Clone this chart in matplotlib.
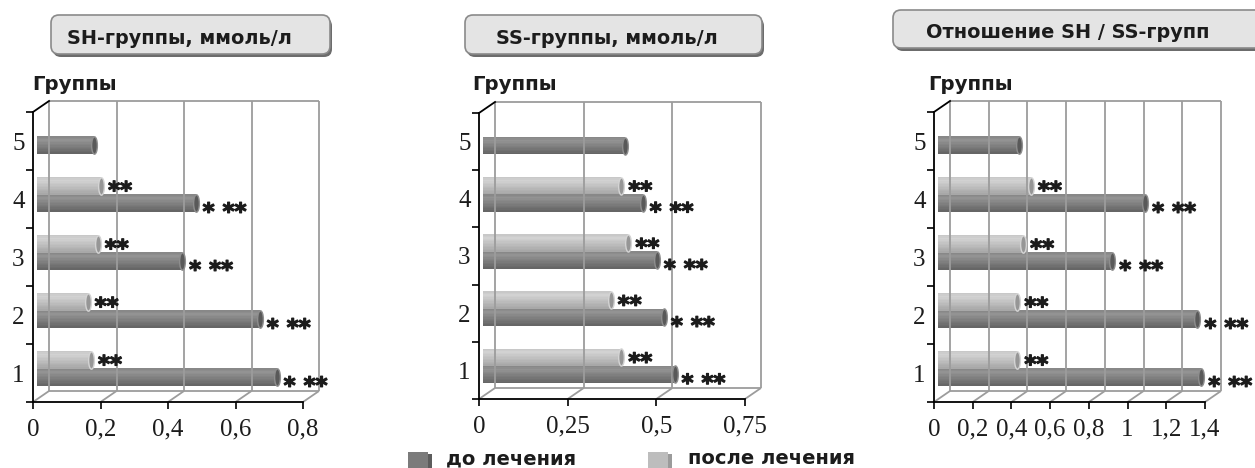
import matplotlib
matplotlib.use("Agg")
import matplotlib.pyplot as plt
import matplotlib.colors as mcolors
import matplotlib.transforms as mtransforms
import matplotlib.patheffects as pe
from matplotlib.patches import FancyBboxPatch, Rectangle
from matplotlib.path import Path
import numpy as np

groups = [1, 2, 3, 4, 5]
group_labels = ['1', '2', '3', '4', '5']

# до лечения / после лечения, group 5 has no "after" value
sh_before = [0.71, 0.66, 0.43, 0.47, 0.17]
sh_after = [0.16, 0.15, 0.18, 0.19, None]
ss_before = [0.54, 0.51, 0.49, 0.45, 0.40]
ss_after = [0.39, 0.36, 0.41, 0.39, None]
ratio_before = [1.36, 1.34, 0.90, 1.07, 0.42]
ratio_after = [0.41, 0.41, 0.44, 0.48, None]

marks_before = ['* **', '* **', '* **', '* **', '']
marks_after = ['**', '**', '**', '**', '']

sh_ticks = [0, 0.2, 0.4, 0.6, 0.8]
sh_ticklabels = ['0', '0,2', '0,4', '0,6', '0,8']
ss_ticks = [0, 0.25, 0.5, 0.75]
ss_ticklabels = ['0', '0,25', '0,5', '0,75']
ratio_ticks = [0, 0.2, 0.4, 0.6, 0.8, 1.0, 1.2, 1.4]
ratio_ticklabels = ['0', '0,2', '0,4', '0,6', '0,8', '1', '1,2', '1,4']

titles = ['SH-группы, ммоль/л', 'SS-группы, ммоль/л', 'Отношение SH / SS-групп']
axis_title = 'Группы'
legend_labels = ['до лечения', 'после лечения']

W, H = 1255, 468
fig = plt.figure(figsize=(W / 100, H / 100), dpi=100)
pix = mtransforms.IdentityTransform()

DEPTH = (16, 11)        # back wall offset, px
BAR_SHIFT = (4, 4.5)    # bars sit a little inside the box
BAR_H = 0.3
DARK = ('#939393', '#666666')
LIGHT = ('#d2d2d2', '#a8a8a8')
GRID = '#9c9c9c'
INK = '#1c1c1c'
SERIF = 'Liberation Serif'
SANS = 'DejaVu Sans'

cap_path = Path(Path.unit_circle().vertices * [0.33, 1.0], Path.unit_circle().codes)


def shades(top, bottom, n):
    c0 = np.array(mcolors.to_rgb(top))
    c1 = np.array(mcolors.to_rgb(bottom))
    prof = np.concatenate([np.linspace(0.25, 0.0, 3), np.linspace(0.1, 1.0, n - 3)])
    return [tuple(c0 + (c1 - c0) * t) for t in prof]


def cylinder(ax, trans, y, value, colors, cap_face, cap_edge, ppy):
    n = 12
    h = BAR_H / n
    for k, c in enumerate(shades(colors[0], colors[1], n)):
        ax.barh(y + BAR_H / 2 - (k + 0.5) * h, value, height=h * 1.15, color=c,
                linewidth=0, transform=trans, clip_on=False)
    ax.plot([value], [y], marker=cap_path, markersize=BAR_H * ppy * 0.72,
            markerfacecolor=cap_face, markeredgecolor=cap_edge, markeredgewidth=1,
            transform=trans, clip_on=False)


def stars(ax, x, y, text, dy):
    tr = mtransforms.offset_copy(ax.transData, fig=fig, x=BAR_SHIFT[0] + 7,
                                 y=BAR_SHIFT[1] + dy, units='dots')
    ax.text(x, y, text, transform=tr, ha='left', va='baseline', color=INK,
            fontsize=16.5, fontweight='bold', fontfamily=SANS, clip_on=False,
            path_effects=[pe.withStroke(linewidth=0.9, foreground=INK)])


def panel(x0, x1, ytop, ybot, before, after, ticks, ticklabels):
    ax = fig.add_axes([x0 / W, 1 - ybot / H, (x1 - x0) / W, (ybot - ytop) / H])
    xmax = ticks[-1]
    ax.set_xlim(0, xmax)
    ax.set_ylim(0.5, 5.5)
    ppx = (x1 - x0) / xmax
    ppy = (ybot - ytop) / 5
    bdx = DEPTH[0] / ppx
    bdy = DEPTH[1] / ppy

    # back wall, floor and the depth edges
    kw = dict(color=GRID, lw=1.3, clip_on=False, solid_capstyle='butt')
    for t in ticks:
        ax.plot([t + bdx, t + bdx], [0.5 + bdy, 5.5 + bdy], **kw)
        ax.plot([t, t + bdx], [0.5, 0.5 + bdy], **kw)
    ax.plot([bdx, xmax + bdx], [0.5 + bdy, 0.5 + bdy], **kw)
    ax.plot([bdx, xmax + bdx], [5.5 + bdy, 5.5 + bdy], **kw)
    ax.plot([0, bdx], [5.5, 5.5 + bdy], color='black', lw=1.3, clip_on=False)

    for s in ['top', 'right']:
        ax.spines[s].set_visible(False)
    for s in ['left', 'bottom']:
        ax.spines[s].set_linewidth(1.3)
        ax.spines[s].set_color('black')

    ax.set_xticks(ticks)
    ax.set_xticklabels(ticklabels, fontfamily=SERIF, fontsize=18, color=INK)
    ax.tick_params(axis='x', direction='out', length=5, width=1.2, pad=7)
    ax.set_yticks([g + 0.5 for g in [0] + groups])
    ax.set_yticklabels([])
    ax.tick_params(axis='y', which='major', direction='out', length=5, width=1.2)
    ax.set_yticks(groups, minor=True)
    ax.set_yticklabels(group_labels, minor=True, fontfamily=SERIF, fontsize=18, color=INK)
    ax.tick_params(axis='y', which='minor', length=0, pad=6)

    bar_tr = mtransforms.offset_copy(ax.transData, fig=fig, x=BAR_SHIFT[0], y=BAR_SHIFT[1], units='dots')
    for g, vb, va, mb, ma in zip(groups, before, after, marks_before, marks_after):
        cylinder(ax, bar_tr, g - BAR_H / 2, vb, DARK, '#595959', '#8e8e8e', ppy)
        if mb:
            stars(ax, vb, g - BAR_H / 2, mb, -16)
        if va is None:
            continue
        cylinder(ax, bar_tr, g + BAR_H / 2, va, LIGHT, '#969696', '#d4d4d4', ppy)
        if ma:
            stars(ax, va, g + BAR_H / 2, ma, -12)
    return ax


def title_box(x, y, w, h, text, tx):
    fig.patches.append(FancyBboxPatch((x + 2, H - y - h - 3), w, h,
                                      boxstyle='round,pad=0,rounding_size=8',
                                      facecolor='#6c6c6c', edgecolor='none', transform=pix))
    fig.patches.append(FancyBboxPatch((x, H - y - h), w, h,
                                      boxstyle='round,pad=0,rounding_size=8',
                                      facecolor='#e4e4e4', edgecolor='#8a8a8a', lw=1.2,
                                      transform=pix))
    fig.text(tx / W, 1 - (y + h / 2 + 9.5) / H, text, ha='left', va='baseline',
             fontsize=13.9, fontweight='bold', fontfamily=SANS, color=INK)


panel(33, 303, 112, 402, sh_before, sh_after, sh_ticks, sh_ticklabels)
panel(479, 745, 113, 399, ss_before, ss_after, ss_ticks, ss_ticklabels)
panel(934, 1205, 112, 402, ratio_before, ratio_after, ratio_ticks, ratio_ticklabels)

title_box(51, 15, 279, 39, titles[0], 67)
title_box(465, 15, 297, 39, titles[1], 496)
title_box(893, 10, 380, 38, titles[2], 926)

for gx in [32, 472, 928]:
    fig.text(gx / W, 1 - 90 / H, axis_title, ha='left', va='baseline',
             fontsize=14.2, fontweight='bold', fontfamily=SANS, color=INK)

# legend keys drawn as small boxes with a shaded side
for kx, tx, face, side, label in [(408, 446, '#7b7b7b', '#5c5c5c', legend_labels[0]),
                                   (648, 688, '#bdbdbd', '#9b9b9b', legend_labels[1])]:
    fig.patches.append(Rectangle((kx, 0), 20, 16, facecolor=face, edgecolor='none', transform=pix))
    fig.patches.append(Rectangle((kx + 20, 0), 4, 14, facecolor=side, edgecolor='none', transform=pix))
    fig.text(tx / W, 1 - 464 / H, label, ha='left', va='baseline',
             fontsize=14, fontweight='bold', fontfamily=SANS, color=INK)

fig.savefig('out.png', dpi=100)
